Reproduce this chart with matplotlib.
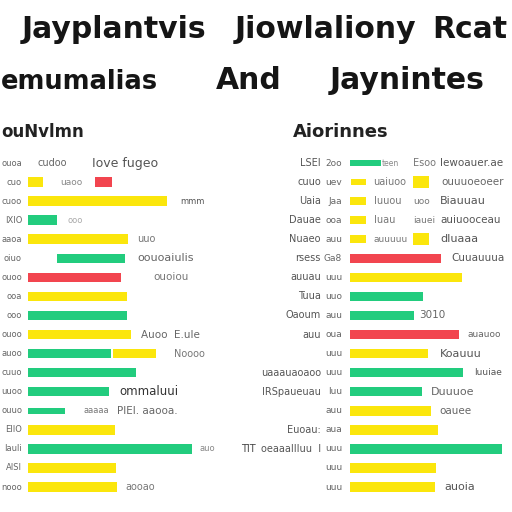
import matplotlib
matplotlib.use("Agg")
import matplotlib.pyplot as plt

W = H = 512.0

# --- data (bar segments, in pixel-like units) ---
YEL, GRN, RED = "#fbe60c", "#22cc7e", "#f2454f"

left_rows   = [1, 1, 2, 3, 4, 5, 6, 7, 8, 9, 10, 10, 11, 12, 13, 14, 15, 16, 17]
left_starts = [0, 67, 0, 0, 0, 29, 0, 0, 0, 0, 0, 85, 0, 0, 0, 0, 0, 0, 0]
left_widths = [15, 17, 139, 29, 100, 68, 93, 99, 99, 103, 83, 43, 108, 81, 37, 87, 164, 88, 89]
left_colors = [YEL, RED, YEL, GRN, YEL, GRN, RED, YEL, GRN, YEL, GRN, YEL, GRN, GRN, GRN, YEL, GRN, YEL, YEL]
left_thick  = [0.5, 0.5, 0.5, 0.5, 0.5, 0.5, 0.5, 0.5, 0.5, 0.5, 0.5, 0.5, 0.5, 0.5, 0.33, 0.5, 0.5, 0.5, 0.5]

right_rows   = [0, 1, 1, 2, 3, 4, 4, 5, 6, 7, 8, 9, 10, 11, 12, 13, 14, 15, 16, 17]
right_starts = [0, 1, 63, 0, 0, 0, 63, 0, 0, 0, 0, 0, 0, 0, 0, 0, 0, 0, 0, 0]
right_widths = [31, 15, 16, 16, 16, 16, 16, 91, 112, 73, 64, 109, 78, 113, 72, 81, 88, 152, 86, 85]
right_colors = [GRN, YEL, YEL, YEL, YEL, YEL, YEL, RED, YEL, GRN, GRN, RED, YEL, GRN, GRN, YEL, YEL, GRN, YEL, YEL]
right_thick  = [0.3, 0.3, 0.62, 0.42, 0.42, 0.42, 0.62, 0.5, 0.5, 0.5, 0.5, 0.5, 0.5, 0.5, 0.5, 0.5, 0.5, 0.5, 0.5, 0.5]

left_labels = ["ouoa", "cuo", "cuoo", "IXIO", "aaoa", "oiuo", "ouoo", "ooa", "ooo",
               "ouoo", "auoo", "cuuo", "uuoo", "ouuo", "EIIO", "Iauli", "AISI", "nooo"]
right_cat = ["LSEI", "cuuo", "Uaia", "Dauae", "Nuaeo", "rsess", "auuau", "Tuua", "Oaoum",
             "auu", "", "uaaauaoaoo", "IRSpaueuau", "", "Euoau:", "oeaaaIIIuu  I", "", ""]
right_sub = ["2oo", "uev", "Jaa", "ooa", "auu", "Ga8", "uuu", "uuo", "auu",
             "oua", "uuu", "uuu", "Iuu", "auu", "aua", "uuu", "uuu", "uuu"]

# notes: (row, x-pixel, text, size, color)
left_notes = [(0, 38, "cudoo", 7, "#666"), (0, 92, "Iove fugeo", 9, "#555"),
              (1, 60, "uaoo", 6.5, "#888"), (2, 180, "mmm", 6, "#555"),
              (3, 68, "ooo", 6, "#aaa"), (4, 137, "uuo", 7, "#777"),
              (5, 137, "oouoaiulis", 8, "#666"), (6, 153, "ouoiou", 7.5, "#777"),
              (9, 141, "Auoo  E.uIe", 7.5, "#666"), (10, 174, "Noooo", 7, "#777"),
              (12, 119, "ommaluui", 8.5, "#333"), (13, 83, "aaaaa", 6, "#777"),
              (13, 117, "PIEI. aaooa.", 7.5, "#666"), (15, 200, "auo", 6, "#888"),
              (15, 241, "TIT", 7, "#444"), (17, 125, "aooao", 7, "#777")]
right_notes = [(0, 382, "teen", 5.5, "#888"), (0, 413, "Esoo", 7, "#777"),
               (0, 440, "Iewoauer.ae", 7.5, "#555"), (1, 373, "uaiuoo", 7, "#777"),
               (1, 441, "ouuuoeoeer", 7.5, "#666"), (2, 374, "Iuuou", 7, "#777"),
               (2, 413, "uoo", 6.5, "#777"), (2, 440, "Biauuau", 8, "#555"),
               (3, 374, "Iuau", 7, "#777"), (3, 413, "iauei", 6.5, "#777"),
               (3, 440, "auiuooceau", 7.5, "#555"), (4, 373, "auuuuu", 6.5, "#777"),
               (4, 440, "dIuaaa", 8, "#555"), (5, 451, "Cuuauuua", 7.5, "#555"),
               (8, 419, "3010", 7.5, "#666"), (9, 468, "auauoo", 6.5, "#666"),
               (10, 440, "Koauuu", 8, "#555"), (11, 474, "Iuuiae", 6.5, "#555"),
               (12, 431, "Duuuoe", 8, "#666"), (13, 439, "oauee", 7.5, "#666"),
               (17, 444, "auoia", 8, "#555")]

ROW0, STEP = 163.0, 19.06

fig = plt.figure(figsize=(5.12, 5.12), dpi=100)
fig.patch.set_facecolor("white")


def ftext(x, y, s, **kw):
    fig.text(x / W, 1 - y / H, s, **kw)


# Title block
tkw = dict(fontsize=21.5, fontweight="bold", color="#151515", family="DejaVu Sans", va="baseline")
ftext(22, 38, "Jayplantvis", **tkw)
ftext(235, 38, "Jiowlaliony", **tkw)
ftext(432, 38, "Rcat", **tkw)
ftext(1, 89, "emumalias", fontsize=18.5, fontweight="bold", color="#151515",
      family="DejaVu Sans", va="baseline")
ftext(216, 89, "And", **tkw)
ftext(330, 89, "Jaynintes", **tkw)
skw = dict(fontsize=12, fontweight="bold", color="#222", family="DejaVu Sans", va="baseline")
ftext(1, 137, "ouNvlmn", **skw)
ftext(293, 137, "Aiorinnes", fontsize=13, fontweight="bold", color="#222",
      family="DejaVu Sans", va="baseline")


def make_axes(x0px, zero_px):
    top, bot = 140.0, 512.0
    ax = fig.add_axes([x0px / W, 1 - bot / H, 256 / W, (bot - top) / H])
    ax.set_xlim(x0px - zero_px, x0px - zero_px + 256)
    ax.set_ylim((bot - ROW0) / STEP, (top - ROW0) / STEP)
    ax.axis("off")
    return ax


axL = make_axes(0, 28)
axR = make_axes(256, 350)

axL.barh(left_rows, left_widths, left=left_starts, height=left_thick, color=left_colors)
axR.barh(right_rows, right_widths, left=right_starts, height=right_thick, color=right_colors)

for r, s in enumerate(left_labels):
    axL.text(-6, r, s, ha="right", va="center", fontsize=6, color="#666", clip_on=False)
for r, (a, b) in enumerate(zip(right_cat, right_sub)):
    axR.text(321 - 350, r, a, ha="right", va="center", fontsize=7, color="#555", clip_on=False)
    axR.text(342 - 350, r, b, ha="right", va="center", fontsize=6.5, color="#666", clip_on=False)

for r, x, s, fs, c in left_notes:
    axL.text(x - 28, r, s, ha="left", va="center", fontsize=fs, color=c, clip_on=False)
for r, x, s, fs, c in right_notes:
    axR.text(x - 350, r, s, ha="left", va="center", fontsize=fs, color=c, clip_on=False)

fig.savefig("out.png", dpi=100, facecolor="white")
